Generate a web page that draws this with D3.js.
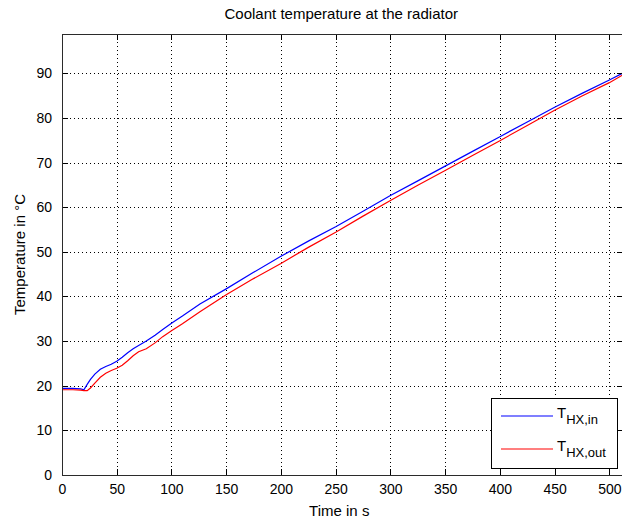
<!DOCTYPE html>
<html>
<head>
<meta charset="utf-8">
<script src="https://cdn.jsdelivr.net/npm/d3@7"></script>
<style>
  html, body { margin: 0; padding: 0; background: #fff; }
  svg { display: block; }
  text { font-family: "Liberation Sans", Arial, Helvetica, sans-serif; fill: #000; }
</style>
</head>
<body>
<svg id="chart" width="622" height="524"></svg>
<script>
// Coolant temperature at the radiator inlet and outlet over time
const timeS = [0, 10, 17, 20, 23, 26, 30, 35, 40, 45, 50, 55, 60, 65, 70, 77, 85, 92, 100, 110, 126, 150, 175, 200, 225, 250, 275, 300, 325, 350, 375, 400, 425, 450, 475, 500, 512];
const tempIn = [19.4, 19.4, 19.3, 19.1, 20.3, 21.4, 22.6, 23.7, 24.3, 24.8, 25.5, 26.4, 27.4, 28.3, 29.0, 30.0, 31.3, 32.6, 34.0, 35.6, 38.3, 41.7, 45.4, 49.0, 52.4, 55.6, 59.1, 62.6, 65.9, 69.2, 72.5, 75.8, 79.1, 82.4, 85.5, 88.5, 90.0];
const tempOut = [19.1, 19.1, 19.0, 18.9, 18.9, 19.5, 20.6, 21.9, 22.8, 23.4, 23.9, 24.6, 25.6, 26.7, 27.6, 28.3, 29.6, 31.0, 32.3, 33.9, 36.6, 40.4, 44.0, 47.4, 51.0, 54.4, 58.0, 61.5, 64.9, 68.2, 71.6, 74.9, 78.3, 81.7, 84.9, 87.9, 89.6];

const xTicks = [0, 50, 100, 150, 200, 250, 300, 350, 400, 450, 500];
const yTicks = [0, 10, 20, 30, 40, 50, 60, 70, 80, 90];
const seriesNames = ["in", "out"];
const seriesColors = ["#0000ff", "#ff0000"];

const svg = d3.select("#chart");
const plotLeft = 62, plotRight = 622.5, plotTop = 34, plotBottom = 475;

const x = d3.scaleLinear().domain([0, 512]).range([plotLeft, plotRight]);
const y = d3.scaleLinear().domain([0, 98.8]).range([plotBottom, plotTop]);

const tickFont = 14, labelFont = 15;

// plot background
svg.append("rect")
  .attr("x", plotLeft).attr("y", plotTop)
  .attr("width", plotRight - plotLeft).attr("height", plotBottom - plotTop)
  .attr("fill", "#fff");

// dotted grid
const grid = svg.append("g").attr("stroke", "#000").attr("stroke-width", 1)
  .attr("stroke-dasharray", "1,3").attr("shape-rendering", "crispEdges");
grid.selectAll(".gx").data(xTicks.filter(d => d > 0)).join("line")
  .attr("x1", d => Math.round(x(d)) + 0.5).attr("x2", d => Math.round(x(d)) + 0.5)
  .attr("y1", plotBottom).attr("y2", plotTop);
grid.selectAll(".gy").data(yTicks.filter(d => d > 0)).join("line")
  .attr("y1", d => Math.round(y(d)) + 0.5).attr("y2", d => Math.round(y(d)) + 0.5)
  .attr("x1", plotLeft).attr("x2", plotRight);

// data lines
const line = d3.line().x((d, i) => x(timeS[i])).y(d => y(d));
[tempIn, tempOut].forEach((vals, k) => {
  svg.append("path")
    .datum(vals)
    .attr("d", line)
    .attr("fill", "none")
    .attr("stroke", seriesColors[k])
    .attr("stroke-width", 1.2);
});

// axes with inward ticks, MATLAB style box
const tickLen = 6;
const xAxisB = d3.axisBottom(x).tickValues(xTicks).tickSizeInner(-tickLen).tickSizeOuter(0).tickPadding(tickLen + 3);
const xAxisT = d3.axisTop(x).tickValues(xTicks).tickSizeInner(-tickLen).tickSizeOuter(0).tickFormat("");
const yAxisL = d3.axisLeft(y).tickValues(yTicks).tickSizeInner(-tickLen).tickSizeOuter(0).tickPadding(tickLen + 4);
const yAxisR = d3.axisRight(y).tickValues(yTicks).tickSizeInner(-tickLen).tickSizeOuter(0).tickFormat("");

function styleAxis(g) {
  g.selectAll(".domain").remove();
  g.selectAll("line").attr("stroke", "#000").attr("shape-rendering", "crispEdges");
  g.selectAll("text").attr("font-size", tickFont).attr("fill", "#000")
    .attr("font-family", "\"Liberation Sans\", Arial, sans-serif");
}
svg.append("g").attr("transform", `translate(0,${plotBottom})`).call(xAxisB).call(styleAxis);
svg.append("g").attr("transform", `translate(0,${plotTop})`).call(xAxisT).call(styleAxis);
svg.append("g").attr("transform", `translate(${plotLeft},0)`).call(yAxisL).call(styleAxis);
svg.append("g").attr("transform", `translate(${plotRight},0)`).call(yAxisR).call(styleAxis);

// box outline
svg.append("rect")
  .attr("x", plotLeft + 0.5).attr("y", plotTop + 0.5)
  .attr("width", plotRight - plotLeft).attr("height", plotBottom - plotTop)
  .attr("fill", "none").attr("stroke", "#2b2b2b").attr("stroke-width", 1)
  .attr("shape-rendering", "crispEdges");

// title and axis labels
svg.append("text")
  .attr("x", (plotLeft + plotRight) / 2 - 1).attr("y", 19)
  .attr("text-anchor", "middle").attr("font-size", labelFont)
  .text("Coolant temperature at the radiator");
svg.append("text")
  .attr("x", (plotLeft + plotRight) / 2 - 3).attr("y", 516)
  .attr("text-anchor", "middle").attr("font-size", labelFont)
  .text("Time in s");
svg.append("text")
  .attr("transform", `translate(25,${(plotTop + plotBottom) / 2}) rotate(-90)`)
  .attr("text-anchor", "middle").attr("font-size", labelFont)
  .text("Temperature in °C");

// legend
const lg = svg.append("g");
const lx = 491, ly = 398, lw = 126, lh = 70;
lg.append("rect")
  .attr("x", lx + 0.5).attr("y", ly + 0.5).attr("width", lw).attr("height", lh)
  .attr("fill", "#fff").attr("stroke", "#000").attr("shape-rendering", "crispEdges");
seriesNames.forEach((name, k) => {
  const yy = ly + 18 + k * 33;
  lg.append("line")
    .attr("x1", lx + 10).attr("x2", lx + 62)
    .attr("y1", yy).attr("y2", yy)
    .attr("stroke", seriesColors[k]).attr("stroke-width", 1.2);
  const t = lg.append("text")
    .attr("x", lx + 66).attr("y", yy + 2)
    .attr("font-size", labelFont);
  t.append("tspan").text("T");
  t.append("tspan").attr("dy", 6).attr("font-size", 13).text("HX," + name);
});
</script>
</body>
</html>
